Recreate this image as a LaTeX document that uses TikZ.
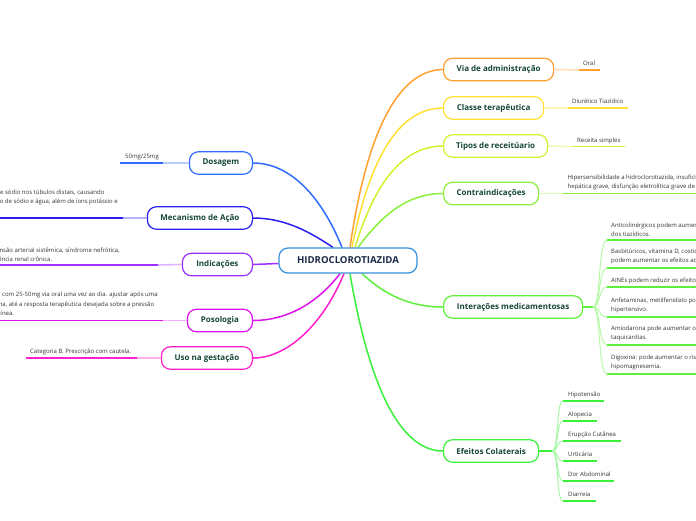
\documentclass[tikz,border=0pt]{standalone}
\usepackage{fontspec}
\setmainfont{Open Sans}
\usetikzlibrary{backgrounds}
\definecolor{cCen}{HTML}{3A8FD6}
\definecolor{cDos}{HTML}{2F6BFF}
\definecolor{cMec}{HTML}{2A1FF0}
\definecolor{cInd}{HTML}{9B30FF}
\definecolor{cPos}{HTML}{DD10F0}
\definecolor{cUso}{HTML}{FF1FCF}
\definecolor{cVia}{HTML}{FFA030}
\definecolor{cCla}{HTML}{FFE033}
\definecolor{cTip}{HTML}{D4F030}
\definecolor{cCon}{HTML}{8CF03A}
\definecolor{cInt}{HTML}{5CF03A}
\definecolor{cEfe}{HTML}{3AF03A}
\definecolor{topictext}{HTML}{16463A}
\definecolor{centraltext}{HTML}{1B2A47}
\definecolor{leafgray}{HTML}{333333}
\begin{document}
\begin{tikzpicture}[x=1pt,y=-1pt,
  topic/.style={draw=#1, line width=1.2pt, rounded corners=9pt, fill=white,
    minimum height=22.5pt, inner sep=0pt,
    font=\bfseries\fontsize{8}{9.6}\selectfont, text=topictext},
  leaftext/.style={inner sep=0pt, font=\fontsize{6}{9.2}\selectfont, text=leafgray, align=left},
  uline/.style={draw=#1, line width=1.8pt},
  pale/.style={draw=#1!35!white, line width=1.6pt},
  branch/.style={draw=#1, line width=1.5pt},
  twig/.style={draw=#1!45!white, line width=1pt}]
\useasboundingbox (0,0) rectangle (696,520);
\clip (0,0) rectangle (696,520);

% central
\node[draw=cCen, line width=1.2pt, rounded corners=9pt, fill=white,
  minimum width=138pt, minimum height=25pt, inner sep=0pt,
  font=\bfseries\fontsize{9.6}{11}\selectfont, text=centraltext] (C) at (348,260.5) {HIDROCLOROTIAZIDA};

% right topics
\node[topic=cVia, minimum width=110pt, anchor=west] (via) at (443,69.5) {Via de administração};
\node[topic=cCla, minimum width=100pt, anchor=west] (cla) at (443,108) {Classe terapêutica};
\node[topic=cTip, minimum width=104pt, anchor=west] (tip) at (443,146) {Tipos de receitúario};
\node[topic=cCon, minimum width=95pt, anchor=west] (con) at (443,193.5) {Contraindicações};
\node[topic=cInt, minimum width=139pt, anchor=west] (int) at (443,307) {Interações medicamentosas};
\node[topic=cEfe, minimum width=95pt, anchor=west] (efe) at (443,451) {Efeitos Colaterais};
% left topics
\node[topic=cDos, minimum width=63pt, anchor=east] (dos) at (253,163) {Dosagem};
\node[topic=cMec, minimum width=105pt, anchor=east] (mec) at (253,218) {Mecanismo de Ação};
\node[topic=cInd, minimum width=70pt, anchor=east] (ind) at (253,264.5) {Indicações};
\node[topic=cPos, minimum width=65pt, anchor=east] (pos) at (253,320.5) {Posologia};
\node[topic=cUso, minimum width=91pt, anchor=east] (uso) at (253,358) {Uso na gestação};

\begin{scope}[on background layer]
% branches from centre
\draw[branch=cVia] ([xshift=2pt]C.north) .. controls (364,150) and (392,70) .. (via.west);
\draw[branch=cCla] ([xshift=4pt]C.north) .. controls (367,172) and (393,108) .. (cla.west);
\draw[branch=cTip] ([xshift=7pt]C.north) .. controls (372,192) and (398,146) .. (tip.west);
\draw[branch=cCon] ([xshift=10pt]C.north) .. controls (380,218) and (405,193.5) .. (con.west);
\draw[branch=cInt] ([xshift=14pt]C.south) .. controls (385,295) and (410,307) .. (int.west);
\draw[branch=cEfe] ([xshift=2pt]C.south) .. controls (368,380) and (398,451) .. (efe.west);
\draw[branch=cDos] ([xshift=-6pt]C.north) .. controls (325,205) and (295,163) .. (dos.east);
\draw[branch=cMec] ([xshift=-15pt]C.north) .. controls (310,232) and (285,218) .. (mec.east);
\draw[branch=cInd] ([yshift=-3pt]C.west) -- (ind.east);
\draw[branch=cPos] ([xshift=-8pt]C.south) .. controls (320,300) and (290,320.5) .. (pos.east);
\draw[branch=cUso] ([xshift=-4pt]C.south) .. controls (325,320) and (290,358) .. (uso.east);
\end{scope}

% ---- right leaves ----
\coordinate (oralA) at (579,70);
\draw[pale=cVia] (via.east) -- (oralA);
\draw[uline=cVia] (oralA) -- ++(21,0);
\node[leaftext, anchor=base west] (oral) at (583,65.5) {Oral};

\coordinate (claA) at (568,108);
\draw[pale=cCla] (cla.east) -- (claA);
\draw[uline=cCla] (claA) -- ++(60,0);
\node[leaftext, anchor=base west] (diur) at (572,103.5) {Diurético Tiazídico};

\coordinate (tipA) at (573,146.5);
\draw[pale=cTip] (tip.east) -- (tipA);
\draw[uline=cTip] (tipA) -- ++(52,0);
\node[leaftext, anchor=base west] (rec) at (577,142) {Receita simples};

\coordinate (conA) at (563,193.5);
\draw[pale=cCon] (con.east) -- (conA);
\draw[uline=cCon] (conA) -- ++(150,0);
\node[leaftext, anchor=south west] (hip) at (567.5,190) {Hipersensibilidade a hidroclorotiazida, insuficiência renal ou\\hepática grave, disfunção eletrolítica grave de sódio e potássio.};

% Interações
\coordinate (ib) at (593,307);
\draw[line width=1.8pt, draw=cInt] (int.east) -- (ib);
\foreach \n/\yy in {1/240,2/268,3/287,4/317,5/345,6/374}{
  \coordinate (i\n) at (607,\yy);
  \draw[twig=cInt] (ib) .. controls (601,307) and (598,\yy) .. (i\n);
  \draw[uline=cInt] (i\n) -- ++(110,0);
}
\node[leaftext, anchor=south west] (t1) at (611,236.5) {Anticolinérgicos podem aumentar a biodisponibilidade\\dos tiazídicos.};
\node[leaftext, anchor=south west] (t2) at (611,264.5) {Basbitúricos, vitamina D, costicosteroides e álcool\\podem aumentar os efeitos adversos.};
\node[leaftext, anchor=base west] (t3) at (611,282.5) {AINEs podem reduzir os efeitos diuréticos.};
\node[leaftext, anchor=south west] (t4) at (611,313.5) {Anfetaminas, metilfenidato podem reduzir o efeito anti-\\hipertensivo.};
\node[leaftext, anchor=south west] (t5) at (611,341.5) {Amiodarona pode aumentar o risco de arritmias e\\taquicardias.};
\node[leaftext, anchor=south west] (t6) at (611,370.5) {Digoxina: pode aumentar o risco de hipocalemia e\\hipomagnesemia.};

% Efeitos colaterais
\coordinate (eb) at (552,451);
\draw[line width=1.8pt, draw=cEfe] (efe.east) -- (eb);
\foreach \n/\yy/\ee/\txt in {1/401/604/Hipotensão,2/421/597/Alopecia,3/441/621/Erupção Cutânea,4/461/597/Urticária,5/481/614/Dor Abdominal,6/501/596/Diarreia}{
  \coordinate (e\n) at (563,\yy);
  \coordinate (e\n e) at (\ee,\yy);
  \draw[twig=cEfe] (eb) .. controls (559,451) and (556,\yy) .. (e\n);
  \draw[uline=cEfe] (e\n) -- (e\n e);
  \node[leaftext, anchor=base west] (et\n) at (568,\yy-4.5) {\txt};
}

% ---- left leaves ----
\coordinate (dosA) at (163,163);
\draw[pale=cDos] (dos.west) -- (dosA);
\draw[uline=cDos] (dosA) -- ++(-43,0);
\node[leaftext, anchor=base west] (dosT) at (125,158.5) {50mg/25mg};

\coordinate (mecA) at (123,218);
\draw[pale=cMec] (mec.west) -- (mecA);
\draw[uline=cMec] (mecA) -- ++(-130,0);
\node[leaftext, anchor=south east] (mecT) at (118,214.5) {Inibe a reabsorção de sódio nos túbulos distais, causando\\aumento da excreção de sódio e água, além de íons potássio e\\hidrogênio.};

\coordinate (indA) at (158,265);
\draw[pale=cInd] (ind.west) -- (indA);
\draw[uline=cInd] (indA) -- ++(-165,0);
\node[leaftext, anchor=south east] (indT) at (120,261.5) {Hipertensão arterial sistêmica, síndrome nefrótica,\\insuficiência renal crônica.};

\coordinate (posA) at (163,320.5);
\draw[pale=cPos] (pos.west) -- (posA);
\draw[uline=cPos] (posA) -- ++(-170,0);
\node[leaftext, anchor=south east] (posT) at (158,317) {Iniciar com 25-50mg via oral uma vez ao dia. ajustar após uma\\semana, até a resposta terapêutica desejada sobre a pressão\\sanguínea.};

\coordinate (usoA) at (137,358);
\draw[pale=cUso] (uso.west) -- (usoA);
\draw[uline=cUso] (usoA) -- ++(-111,0);
\node[leaftext, anchor=base west] (usoT) at (30,353.5) {Categoria B. Prescrição com cautela.};
\end{tikzpicture}
\end{document}
